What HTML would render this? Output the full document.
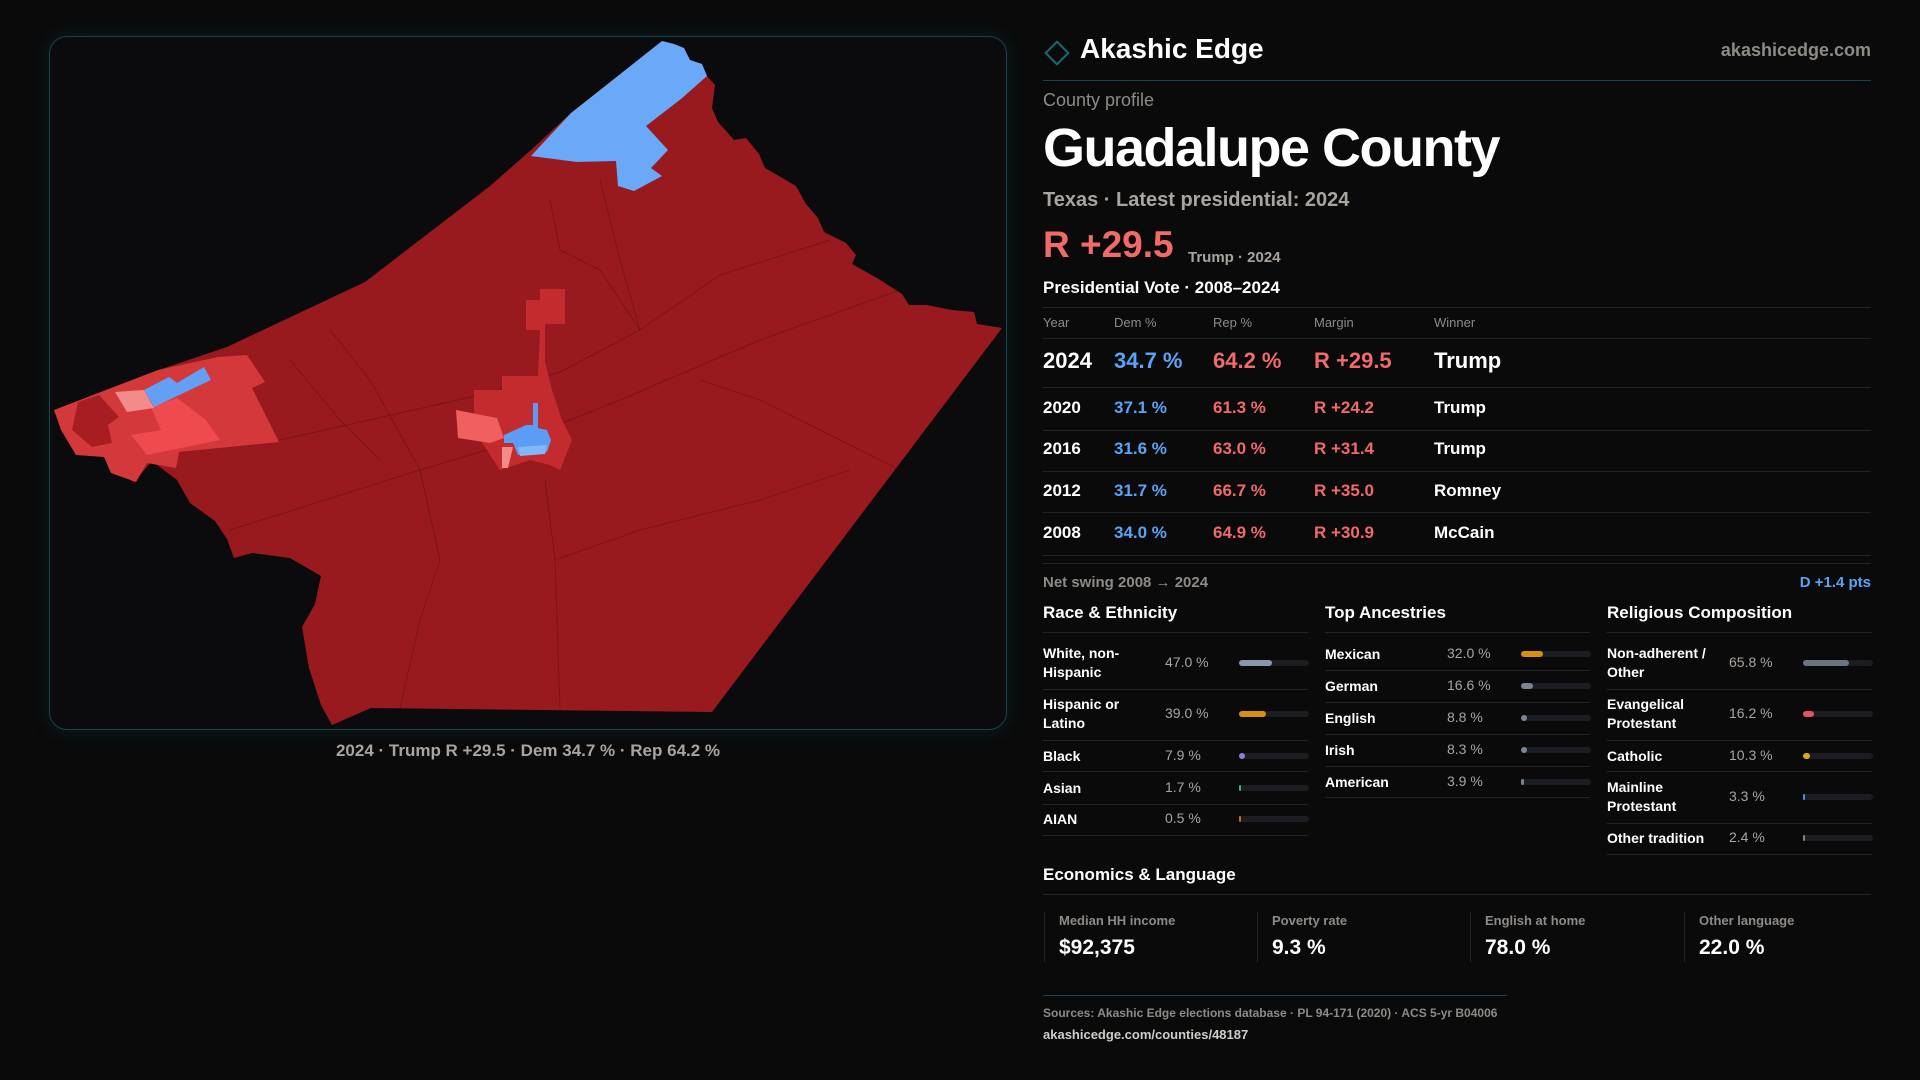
<!DOCTYPE html>
<html><head><meta charset="utf-8"><title>Guadalupe County profile</title>
<style>
*{margin:0;padding:0;box-sizing:border-box}
body{width:1920px;height:1080px;background:#0a0a0b;font-family:"Liberation Sans",sans-serif;color:#fff;position:relative;overflow:hidden}
.a{position:absolute;white-space:nowrap}
.hl{position:absolute;height:1px;background:#222327}
.g{color:#9b9691}
.blue{color:#5ba3f7}.red{color:#f06a6a}
</style></head><body>
<div class="a" style="left:49px;top:36px;width:958px;height:694px;border:1px solid #17454b;border-radius:18px;background:#0b0b0d;box-shadow:0 0 18px rgba(20,90,100,.25)">
</div>
<svg class="a" style="left:0;top:0" width="1020" height="740" viewBox="0 0 1020 740">
<polygon fill="#991a1e" points="662,41 674,44 684,48 690,60 702,64 707,76 715,85 712,108 718,122 734,140 746,138 759,154 765,168 784,179 796,186 806,204 818,218 824,232 846,243 856,255 852,264 877,278 902,294 909,305 927,305 952,310 974,312 977,324 1002,328 712,712 371,708 332,725 321,705 309,668 302,627 315,604 321,576 290,558 252,553 234,558 227,539 215,521 190,503 177,480 165,471 152,461 134,482 121,475 106,457 84,450 71,441 65,425 56,411 159,370 227,347 365,282 490,186 531,150 571,113"/>
<g fill="none" stroke="rgba(60,5,8,.3)" stroke-width="1">
<path d="M179,452 L280,440 L480,395 L560,372 L640,330 L720,275 L830,240"/>
<path d="M230,530 L420,470 L520,440 L620,400 L760,340 L900,290"/>
<path d="M545,480 L555,560 L560,708"/>
<path d="M420,470 L440,560 L420,620 L400,708"/>
<path d="M555,560 L640,530 L760,500 L850,470"/>
<path d="M640,330 L600,270 L560,250 L550,200"/>
<path d="M700,380 L760,400 L840,440 L900,470"/>
<path d="M600,180 L620,260 L640,330"/>
<path d="M330,330 L370,380 L420,470"/>
<path d="M290,360 L340,420 L380,460"/>
</g>
<polygon fill="#6aa9f8" points="531,156 571,113 662,41 674,44 684,48 690,60 702,64 707,76 681,99 646,126 668,150 651,168 662,176 634,191 618,186 616,161 577,162"/>
<polygon fill="#d3383b" points="54,410 158,370 218,357 247,355 265,382 252,388 279,442 179,452 176,468 147,463 136,482 111,473 104,457 76,455 61,430"/>
<polygon fill="#a81d22" points="78,402 99,395 119,417 108,425 112,443 92,447 72,430"/>
<polygon fill="#ef4b4e" points="151,407 177,398 206,420 220,440 147,455 131,435 161,430"/>
<polygon fill="#f48b8b" points="115,392 144,390 154,408 127,412"/>
<polygon fill="#63a0f5" points="144,390 169,377 177,383 204,367 211,380 154,407"/>
<polygon fill="#c42b2f" points="540,289 565,289 565,324 545,324 545,362 552,390 562,420 572,440 560,470 550,465 530,460 500,470 474,430 474,390 502,390 502,376 538,376 540,330 526,330 526,300 540,300"/>
<polygon fill="#f06060" points="456,410 497,418 504,438 490,443 458,438"/>
<polygon fill="#f48b8b" points="502,447 513,447 508,468 502,468"/>
<polygon fill="#5b9cf5" points="504,435 515,430 526,425 533,425 533,403 538,403 538,428 547,430 551,440 547,452 518,455 513,443 504,443"/>
<polygon fill="#82b8fa" points="518,447 547,445 545,454 520,456"/>
</svg>
<div class="a g" style="left:0;width:1056px;text-align:center;top:741px;font-size:17px;font-weight:bold;color:#a9a49f">2024 · Trump R +29.5 · Dem 34.7 % · Rep 64.2 %</div>

<div class="a" style="left:1048px;top:44px;width:18px;height:18px;border:2px solid #146a72;transform:rotate(45deg)"></div>
<div class="a" style="left:1080px;top:33px;font-size:28px;font-weight:bold">Akashic Edge</div>
<div class="a g" style="right:49px;top:40px;font-size:18px;font-weight:bold;color:#8e8a86">akashicedge.com</div>
<div class="hl" style="left:1043px;width:828px;top:80px;background:#17454b"></div>
<div class="a g" style="left:1043px;top:90px;font-size:18px;color:#8e8a86">County profile</div>
<div class="a" style="left:1043px;top:117px;font-size:54px;font-weight:bold;letter-spacing:-1.5px">Guadalupe County</div>
<div class="a g" style="left:1043px;top:189px;font-size:20px;font-weight:bold;color:#a9a49f">Texas · Latest presidential: 2024</div>
<div class="a red" style="left:1043px;top:224px;font-size:37px;font-weight:bold">R +29.5</div>
<div class="a g" style="left:1188px;top:249px;font-size:15px;font-weight:bold;color:#a9a49f">Trump · 2024</div>
<div class="a" style="left:1043px;top:278px;font-size:17px;font-weight:bold">Presidential Vote · 2008–2024</div>

<div class="hl" style="left:1043px;width:828px;top:307px"></div>
<div class="a g" style="left:0;top:315px;font-size:13px;color:#8e8a86">
<span class="a" style="left:1043px">Year</span><span class="a" style="left:1114px">Dem %</span><span class="a" style="left:1213px">Rep %</span><span class="a" style="left:1314px">Margin</span><span class="a" style="left:1434px">Winner</span></div>
<div id="rows"></div>

<div class="a g" style="left:1043px;top:574px;font-size:15px;font-weight:bold;color:#8e8a86">Net swing 2008 → 2024</div>
<div class="a blue" style="right:49px;top:574px;font-size:15px;font-weight:bold">D +1.4 pts</div>

<div class="a" style="left:1043px;top:603px;font-size:17px;font-weight:bold">Race &amp; Ethnicity</div>
<div class="a" style="left:1325px;top:603px;font-size:17px;font-weight:bold">Top Ancestries</div>
<div class="a" style="left:1607px;top:603px;font-size:17px;font-weight:bold">Religious Composition</div>
<div id="demo"></div>

<div class="a" style="left:1043px;top:865px;font-size:17px;font-weight:bold">Economics &amp; Language</div>
<div class="hl" style="left:1043px;width:828px;top:894px"></div>
<div id="cards"></div>

<div class="hl" style="left:1043px;width:464px;top:995px;background:#17454b"></div>
<div class="a g" style="left:1043px;top:1006px;font-size:12px;font-weight:bold;color:#8e8a86">Sources: Akashic Edge elections database · PL 94-171 (2020) · ACS 5-yr B04006</div>
<div class="a" style="left:1043px;top:1027px;font-size:13px;font-weight:bold;color:#d0ccc8">akashicedge.com/counties/48187</div>

<script>
const years=["2024","2020","2016","2012","2008"];
const demPct=[34.7,37.1,31.6,31.7,34.0];
const repPct=[64.2,61.3,63.0,66.7,64.9];
const winners=["Trump","Trump","Trump","Romney","McCain"];
const raceLabels=["White, non-|Hispanic","Hispanic or|Latino","Black","Asian","AIAN"];
const raceValues=[47.0,39.0,7.9,1.7,0.5];
const ancLabels=["Mexican","German","English","Irish","American"];
const ancValues=[32.0,16.6,8.8,8.3,3.9];
const relLabels=["Non-adherent /|Other","Evangelical|Protestant","Catholic","Mainline|Protestant","Other tradition"];
const relValues=[65.8,16.2,10.3,3.3,2.4];
const econLabels=["Median HH income","Poverty rate","English at home","Other language"];
const econValues=["$92,375","9.3 %","78.0 %","22.0 %"];

const raceColors=["#8a96ad","#d4900f","#8b7fd9","#2fb58a","#c96a1a"];
const ancColors=["#d4900f","#7c8494","#7c8494","#7c8494","#7c8494"];
const relColors=["#6b7280","#e05561","#e0a814","#4a90e2","#7c8494"];

function mk(parent,tag,css,txt){const e=document.createElement(tag);e.className='a';e.style.cssText=css;if(txt!==undefined)e.textContent=txt;parent.appendChild(e);return e;}

const rows=document.getElementById('rows');
const rowCenters=[361,408,449,491,533], rowLines=[338,387,430,471,512,555];
rowLines.forEach((y,i)=>{const l=document.createElement('div');l.className='hl';l.style.cssText=`left:1043px;width:828px;top:${y}px`;


rows.appendChild(l);});
const l2=document.createElement('div');l2.className='hl';l2.style.cssText='left:1043px;width:828px;top:563px';


rows.appendChild(l2);
years.forEach((yr,i)=>{
  const fs=i===0?22:17, y=rowCenters[i]-fs*0.6;
  const m=repPct[i]-demPct[i];
  const cells=[[1043,yr,'#fff'],[1114,demPct[i].toFixed(1)+' %','#5ba3f7'],[1213,repPct[i].toFixed(1)+' %','#f06a6a'],[1314,(m>=0?'R +':'D +')+Math.abs(m).toFixed(1),m>=0?'#f06a6a':'#5ba3f7'],[1434,winners[i],'#fff']];
  cells.forEach((c,j)=>{const e=mk(rows,'div',`left:${c[0]}px;top:${y}px;font-size:${fs}px;font-weight:bold;color:${c[2]}`,c[1]);
    
    });
});

const demo=document.getElementById('demo');
function col(x0,labels,vals,colors,centers,lines,name){
  const top=mk(demo,'div',`left:${x0}px;top:632px;width:265px;height:1px;background:#222327`);
  
  
  labels.forEach((lab,i)=>{
    const cy=centers[i];const parts=lab.split('|');
    const le=mk(demo,'div',`left:${x0}px;top:${cy-(parts.length*19)/2}px;font-size:14px;font-weight:bold;line-height:19px;color:#fff`);
    le.innerHTML=parts.join('<br>');
    
    
    const ve=mk(demo,'div',`left:${x0+122}px;top:${cy-9}px;font-size:14px;color:#a9a49f`,vals[i].toFixed(1)+' %');
    
    
    const tr=mk(demo,'div',`left:${x0+196}px;top:${cy-3}px;width:70px;height:6px;border-radius:3px;background:#1c1d21`);
    
    
    const b=mk(demo,'div',`left:${x0+196}px;top:${cy-3}px;width:${Math.max(2,70*vals[i]/100)}px;height:6px;border-radius:3px;background:${colors[i]}`);
    
    
    const ln=mk(demo,'div',`left:${x0}px;top:${lines[i]}px;width:265px;height:1px;background:#222327`);
    
    
  });
}
col(1043,raceLabels,raceValues,raceColors,[663,714,756,788,819],[689,740,771,804,835],'race');
col(1325,ancLabels,ancValues,ancColors,[654,686,718,750,782],[670,702,734,766,797],'ancestry');
col(1607,relLabels,relValues,relColors,[663,714,756,797,838],[689,740,771,823,854],'religion');

const cards=document.getElementById('cards');
const cx=[1044,1257,1470,1684];
econLabels.forEach((lab,i)=>{
  const c=mk(cards,'div',`left:${cx[i]}px;top:912px;width:1px;height:50px;background:#222327`);
  
  
  const l=mk(cards,'div',`left:${cx[i]+15}px;top:913px;font-size:13px;font-weight:bold;color:#8e8a86`,lab);
  
  
  const v=mk(cards,'div',`left:${cx[i]+15}px;top:936px;font-size:21px;font-weight:bold;color:#fff`,econValues[i]);
  
  
});
</script>
</body></html>
